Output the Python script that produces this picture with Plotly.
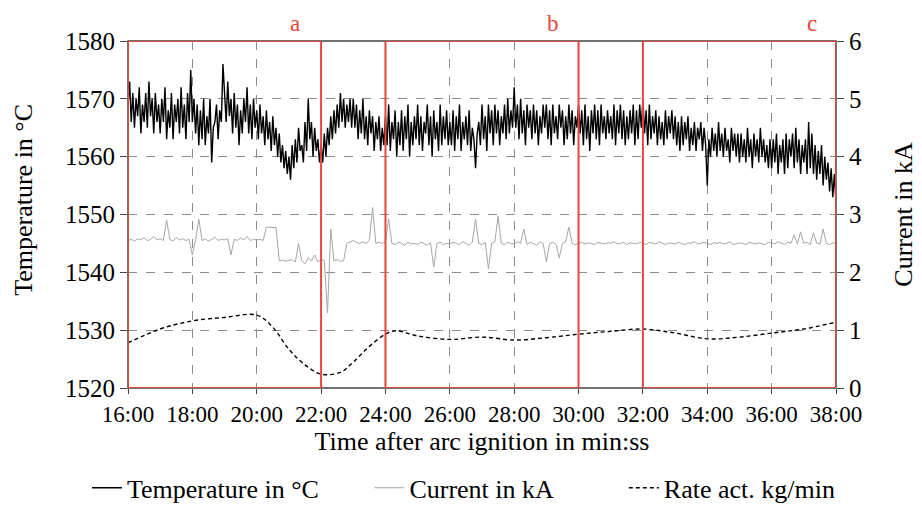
import plotly.graph_objects as go

# temperature sampled every 3 s (0.05 min), current every 6 s (0.1 min), from 16:00
t_start = 16.0
temp_step = 0.05
cur_step = 0.1

temp_c = [
    1569, 1573, 1566, 1571, 1565, 1570, 1567, 1572, 1564, 1569, 1566, 1571, 1565, 1573, 1567, 1570, 1564, 1571, 1566, 1569,
    1564, 1570, 1566, 1572, 1563, 1568, 1565, 1571, 1563, 1569, 1566, 1570, 1564, 1572, 1565, 1569, 1563, 1571, 1566, 1575,
    1566, 1570, 1564, 1569, 1562, 1568, 1563, 1570, 1562, 1567, 1564, 1570, 1559, 1565, 1566, 1569, 1563, 1568, 1566, 1576,
    1571, 1566, 1573, 1567, 1570, 1564, 1571, 1565, 1569, 1562, 1568, 1564, 1570, 1566, 1572, 1564, 1569, 1563, 1570, 1565,
    1568, 1563, 1569, 1564, 1567, 1562, 1568, 1563, 1566, 1561, 1567, 1562, 1565, 1560, 1564, 1559, 1562, 1558, 1561, 1557,
    1560, 1556, 1562, 1558, 1563, 1559, 1565, 1561, 1562, 1559, 1566, 1561, 1570, 1563, 1566, 1560, 1565, 1561, 1563, 1559,
    1562, 1559, 1564, 1560, 1565, 1562, 1567, 1563, 1568, 1564, 1569, 1565, 1571, 1566, 1570, 1565, 1569, 1566, 1570, 1565,
    1570, 1565, 1569, 1563, 1568, 1564, 1570, 1563, 1567, 1562, 1568, 1564, 1567, 1561, 1566, 1563, 1567, 1561, 1565, 1562,
    1567, 1562, 1569, 1561, 1566, 1563, 1568, 1560, 1566, 1562, 1568, 1561, 1567, 1563, 1569, 1560, 1566, 1562, 1567, 1563,
    1569, 1562, 1567, 1561, 1566, 1564, 1569, 1562, 1567, 1560, 1568, 1563, 1566, 1561, 1569, 1562, 1567, 1563, 1568, 1562,
    1566, 1562, 1568, 1561, 1567, 1563, 1569, 1561, 1566, 1563, 1567, 1562, 1568, 1561, 1565, 1563, 1558, 1564, 1566, 1562,
    1569, 1563, 1567, 1561, 1569, 1564, 1568, 1562, 1569, 1564, 1568, 1562, 1567, 1564, 1569, 1563, 1570, 1564, 1568, 1565,
    1572, 1565, 1569, 1563, 1570, 1564, 1568, 1562, 1569, 1565, 1568, 1563, 1569, 1564, 1568, 1562, 1567, 1564, 1569, 1565,
    1569, 1563, 1568, 1562, 1569, 1564, 1567, 1563, 1569, 1565, 1568, 1562, 1567, 1563, 1569, 1564, 1568, 1562, 1567, 1565,
    1569, 1564, 1568, 1562, 1569, 1563, 1567, 1561, 1568, 1564, 1569, 1563, 1568, 1562, 1569, 1564, 1567, 1563, 1568, 1564,
    1567, 1563, 1569, 1562, 1568, 1564, 1569, 1563, 1568, 1562, 1567, 1563, 1568, 1564, 1569, 1562, 1568, 1563, 1569, 1565,
    1570, 1564, 1568, 1562, 1569, 1563, 1567, 1564, 1568, 1562, 1567, 1563, 1566, 1562, 1568, 1563, 1567, 1564, 1568, 1563,
    1567, 1562, 1566, 1561, 1567, 1562, 1566, 1563, 1567, 1561, 1565, 1562, 1566, 1561, 1565, 1563, 1566, 1561, 1565, 1562,
    1555, 1563, 1560, 1565, 1561, 1564, 1560, 1566, 1561, 1564, 1560, 1565, 1561, 1563, 1559, 1565, 1561, 1564, 1560, 1564,
    1559, 1564, 1560, 1563, 1559, 1565, 1560, 1563, 1558, 1564, 1560, 1563, 1559, 1565, 1560, 1563, 1559, 1562, 1558, 1563,
    1558, 1563, 1559, 1564, 1557, 1562, 1559, 1563, 1557, 1564, 1558, 1563, 1560, 1564, 1558, 1565, 1559, 1563, 1557, 1562,
    1559, 1563, 1557, 1566, 1558, 1564, 1557, 1562, 1556, 1561, 1557, 1562, 1555, 1560, 1556, 1559, 1554, 1558, 1553, 1557,
    1552,
]

current_ka = [
    2.55, 2.57, 2.54, 2.58, 2.56, 2.60, 2.55, 2.57, 2.62, 2.56,
    2.58, 2.55, 2.90, 2.57, 2.54, 2.60, 2.56, 2.58, 2.55, 2.57,
    2.30, 2.56, 2.92, 2.55, 2.58, 2.54, 2.57, 2.61, 2.55, 2.57,
    2.56, 2.58, 2.30, 2.57, 2.55, 2.60, 2.56, 2.62, 2.55, 2.57,
    2.56, 2.57, 2.55, 2.78, 2.78, 2.78, 2.77, 2.20, 2.21, 2.19,
    2.20, 2.22, 2.18, 2.50, 2.20, 2.15, 2.25, 2.20, 2.30, 2.18,
    2.22, 2.20, 1.30, 2.75, 2.20, 2.22, 2.19, 2.20, 2.50, 2.52,
    2.55, 2.52, 2.50, 2.53, 2.50, 2.55, 3.12, 2.50, 2.52, 2.50,
    2.53, 2.92, 2.50, 2.48, 2.52, 2.50, 2.47, 2.52, 2.49, 2.50,
    2.48, 2.52, 2.50, 2.47, 2.51, 2.09, 2.50, 2.52, 2.48, 2.50,
    2.49, 2.52, 2.50, 2.48, 2.53, 2.50, 2.47, 2.52, 2.92, 2.50,
    2.48, 2.52, 2.06, 2.50, 2.53, 2.97, 2.50, 2.48, 2.52, 2.50,
    2.49, 2.53, 2.50, 2.75, 2.48, 2.52, 2.50, 2.47, 2.53, 2.50,
    2.18, 2.50, 2.52, 2.48, 2.25, 2.50, 2.53, 2.78, 2.50, 2.48,
    2.50, 2.52, 2.49, 2.51, 2.50, 2.48, 2.52, 2.50, 2.49, 2.51,
    2.50, 2.53, 2.49, 2.50, 2.52, 2.48, 2.51, 2.50, 2.49, 2.52,
    2.50, 2.48, 2.52, 2.50, 2.49, 2.53, 2.50, 2.48, 2.51, 2.50,
    2.49, 2.52, 2.50, 2.48, 2.51, 2.50, 2.53, 2.49, 2.50, 2.52,
    2.50, 2.48, 2.51, 2.50, 2.52, 2.49, 2.50, 2.53, 2.48, 2.50,
    2.51, 2.50, 2.48, 2.52, 2.50, 2.49, 2.51, 2.50, 2.48, 2.52,
    2.50, 2.49, 2.53, 2.50, 2.48, 2.52, 2.50, 2.65, 2.49, 2.70,
    2.50, 2.52, 2.48, 2.68, 2.50, 2.49, 2.75, 2.50, 2.48, 2.51,
    2.50,
]

rate_t = [16, 17, 18, 19, 20, 20.5, 21, 21.5, 22, 22.6, 23, 23.5, 24, 24.3,
          25, 26, 27, 28, 29, 30, 31, 32, 33, 34, 35, 36, 37, 38]
rate_kg = [0.78, 1.02, 1.16, 1.22, 1.26, 1.05, 0.67, 0.40, 0.24, 0.27, 0.45, 0.72, 0.93, 0.99,
           0.90, 0.84, 0.88, 0.83, 0.87, 0.93, 0.98, 1.02, 0.95, 0.85, 0.88, 0.95, 1.02, 1.14]

tick_vals = [16, 18, 20, 22, 24, 26, 28, 30, 32, 34, 36, 38]
tick_text = ["16:00", "18:00", "20:00", "22:00", "24:00", "26:00",
             "28:00", "30:00", "32:00", "34:00", "36:00", "38:00"]

windows = [(16, 22, "a", 21.2), (24, 30, "b", 29.2), (32, 38, "c", 37.25)]

t_temp = [t_start + i * temp_step for i in range(len(temp_c))]
t_cur = [t_start + i * cur_step for i in range(len(current_ka))]

FONT = "Liberation Serif"
RED = "#e8453c"
NB = "\u00a0"

fig = go.Figure()
fig.add_trace(go.Scatter(x=t_temp, y=temp_c, mode="lines", name="Temperature in °C" + NB * 7,
                         line=dict(color="black", width=1.4)))
fig.add_trace(go.Scatter(x=t_cur, y=current_ka, mode="lines", name="Current in kA" + NB * 10,
                         line=dict(color="#a6a6a6", width=1), yaxis="y2"))
fig.add_trace(go.Scatter(x=rate_t, y=rate_kg, mode="lines", name="Rate act. kg/min",
                         line=dict(color="black", width=1.4, dash="4px,3px", shape="spline"),
                         yaxis="y2"))

# plot frame drawn as a shape so the red windows can sit on top of it
fig.add_shape(type="rect", xref="paper", yref="paper", x0=0, x1=1, y0=0, y1=1,
              line=dict(color="#444", width=1.5), layer="above")

for x0, x1, lab, lx in windows:
    fig.add_shape(type="rect", xref="x", yref="y", x0=x0, x1=x1, y0=1520, y1=1580,
                  line=dict(color=RED, width=2), layer="above")
    fig.add_annotation(x=lx, y=1, xref="x", yref="paper", text=lab, showarrow=False,
                       yanchor="bottom", yshift=3, font=dict(family=FONT, size=23, color=RED))

# left axis title placed by hand
fig.add_annotation(x=-0.147, y=0.542, xref="paper", yref="paper", text="Temperature in °C",
                   xanchor="center", yanchor="middle",
                   textangle=-90, showarrow=False, font=dict(family=FONT, size=26))

# page body has an 8 px margin, so the figure is 8 px smaller than the window
fig.update_layout(
    width=914, height=497,
    margin=dict(l=120, r=86, t=33, b=117, autoexpand=False),
    paper_bgcolor="white", plot_bgcolor="white",
    font=dict(family=FONT, size=22, color="black"),
    showlegend=True,
    legend=dict(orientation="h", x=-0.058, xanchor="left", y=-0.22, yanchor="top",
                font=dict(family=FONT, size=26), itemwidth=30, tracegroupgap=0),
    xaxis=dict(range=[16, 38], tickvals=tick_vals, ticktext=tick_text,
               showgrid=True, gridcolor="#8c8c8c", griddash="dash", gridwidth=1,
               showline=False,
               ticks="outside", ticklen=5, tickcolor="#444",
               tickfont=dict(family=FONT, size=23),
               title=dict(text="Time after arc ignition in min:ss", font=dict(family=FONT, size=26),
                          standoff=6),
               zeroline=False),
    yaxis=dict(range=[1520, 1580], dtick=10,
               showgrid=True, gridcolor="#8c8c8c", griddash="dash", gridwidth=1,
               showline=False,
               ticks="outside", ticklen=7, tickcolor="#444",
               tickfont=dict(family=FONT, size=25),
               zeroline=False),
    yaxis2=dict(range=[0, 6], dtick=1, overlaying="y", side="right",
                showgrid=False, showline=False,
                ticks="outside", ticklen=7, tickcolor="#444",
                tickfont=dict(family=FONT, size=25),
                title=dict(text="Current in kA", font=dict(family=FONT, size=26), standoff=32),
                zeroline=False),
)

fig.write_html("out.html")
